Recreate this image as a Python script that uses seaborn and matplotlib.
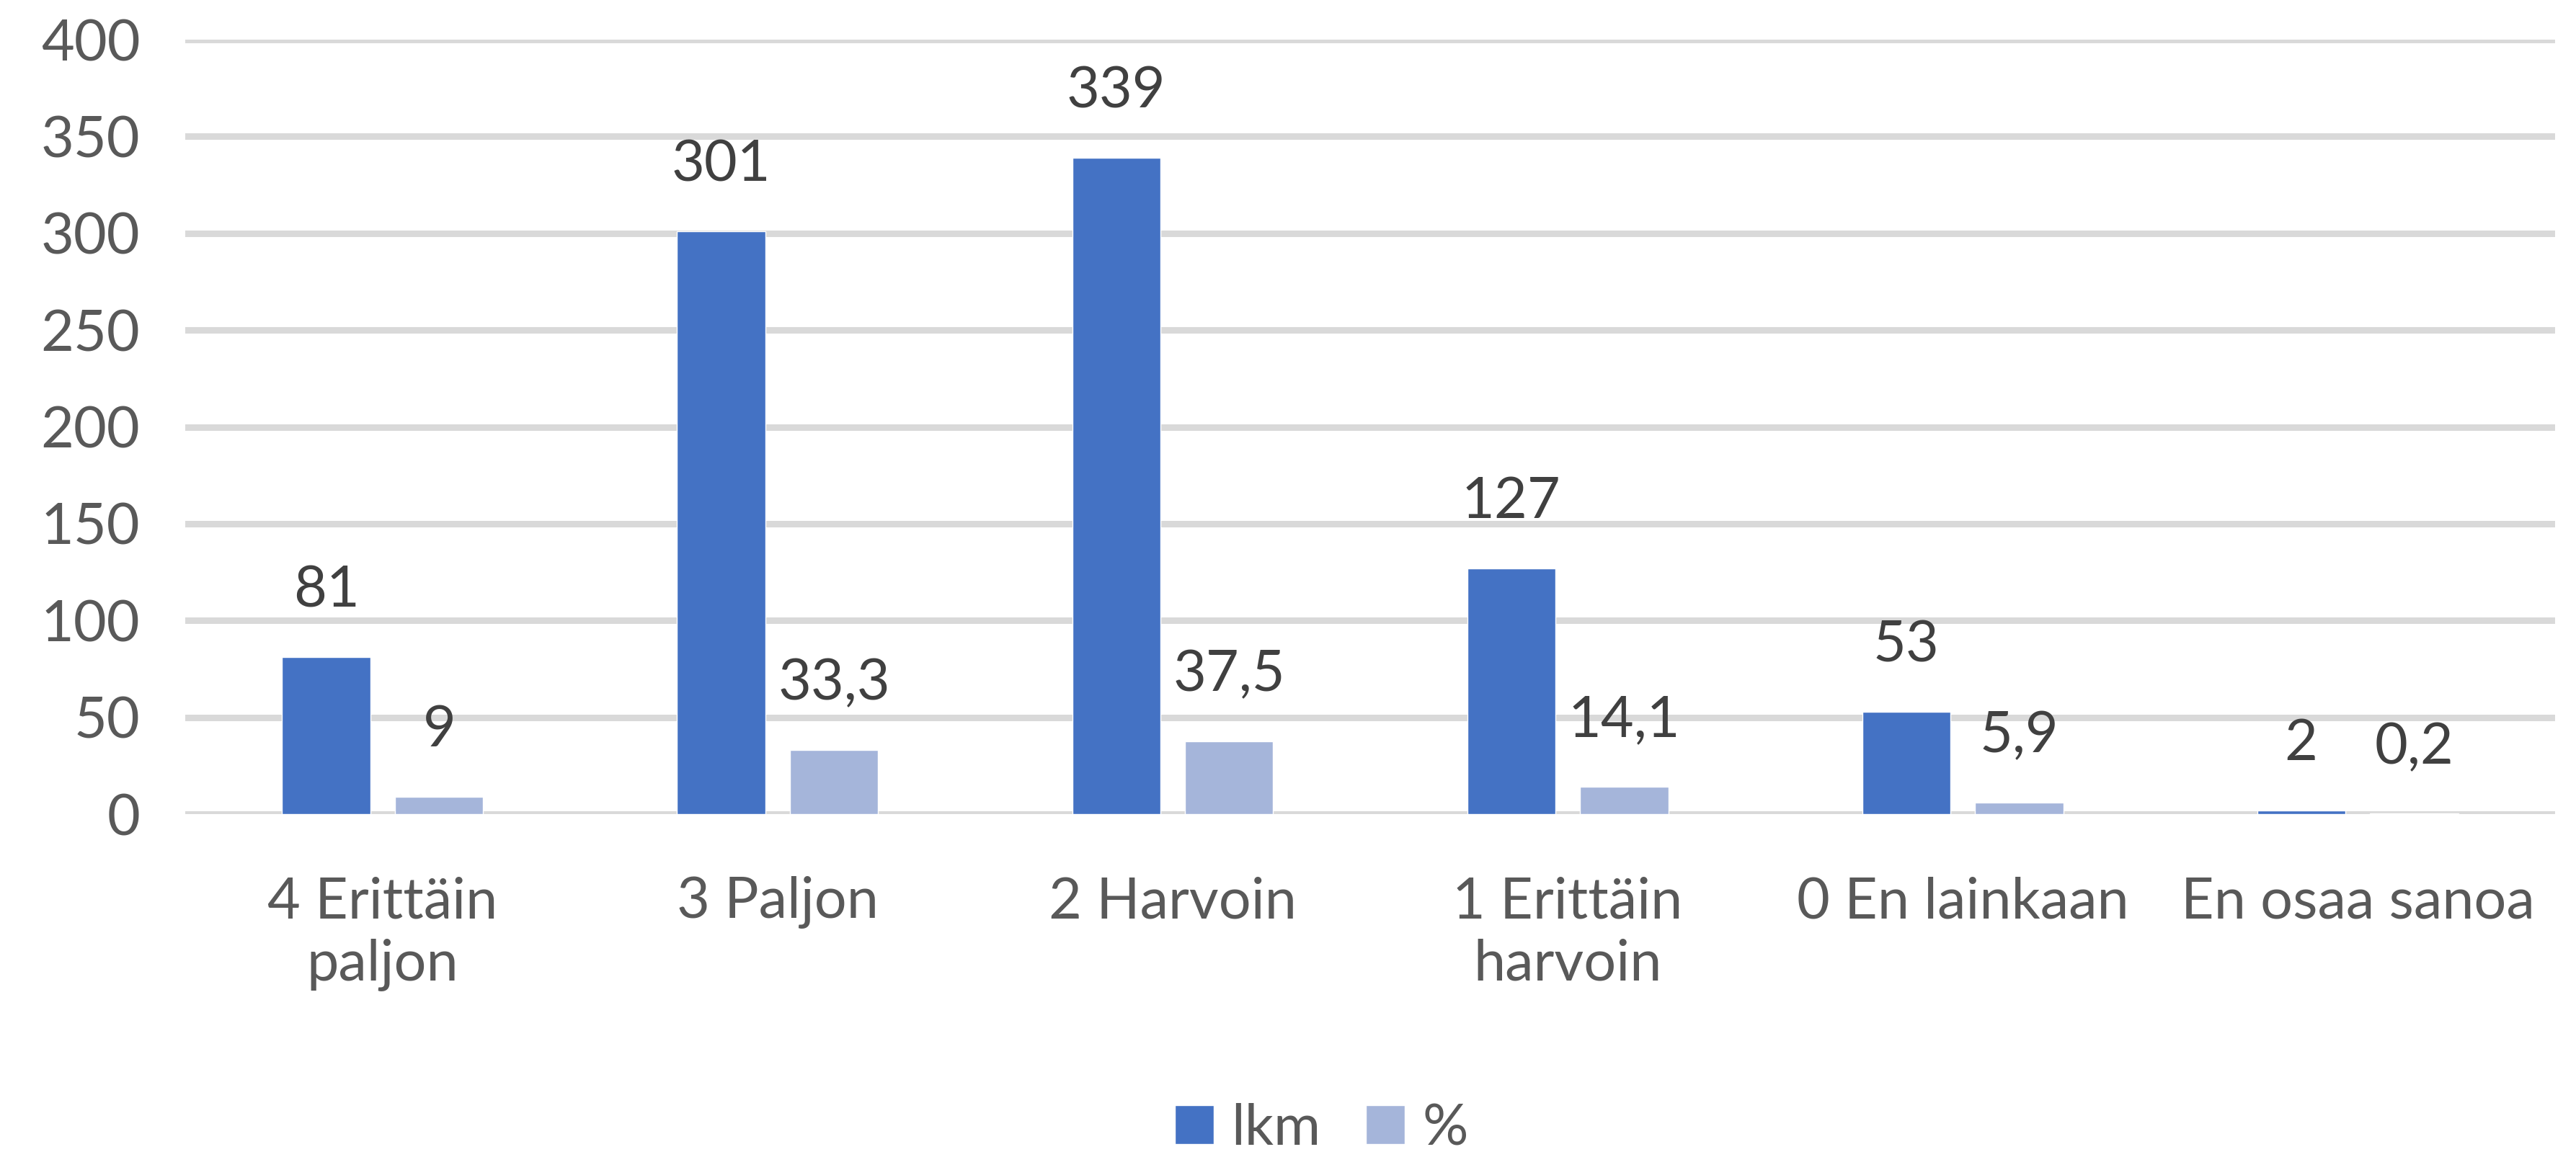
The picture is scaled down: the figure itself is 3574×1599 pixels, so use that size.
import pandas as pd
import matplotlib.pyplot as plt
import seaborn as sns
from matplotlib.patches import Patch

# data
categories = ['4 Erittäin\npaljon', '3 Paljon', '2 Harvoin', '1 Erittäin\nharvoin',
              '0 En lainkaan', 'En osaa sanoa']
lkm = [81, 301, 339, 127, 53, 2]
pct = [9, 33.3, 37.5, 14.1, 5.9, 0.2]
series = ['lkm', '%']
colors = ['#4472C4', '#A5B5DA']

df = pd.DataFrame({
    'kategoria': categories * 2,
    'sarja': ['lkm'] * len(categories) + ['%'] * len(categories),
    'arvo': lkm + pct,
})

sns.set_style('white')
plt.rcParams['font.family'] = ['Lato', 'DejaVu Sans']

fig = plt.figure(figsize=(35.74, 15.99), dpi=100)
ax = fig.add_axes([0.0719, 0.2933, 0.92, 0.6723])

sns.barplot(data=df, x='kategoria', y='arvo', hue='sarja', hue_order=series,
            palette=colors, width=0.572, gap=0.22, saturation=1,
            ax=ax, legend=False)

ax.set_ylim(0, 400)
ax.set_yticks(range(0, 401, 50))
ax.set_xlim(-0.5, len(categories) - 0.5)
ax.grid(axis='y', color='#D9D9D9', linewidth=6.5)
ax.set_axisbelow(True)
for s in ax.spines.values():
    s.set_visible(False)
ax.set_xlabel('')
ax.set_ylabel('')
ax.tick_params(axis='y', length=0, pad=45, labelsize=57, labelcolor='#595959')
ax.tick_params(axis='x', length=0, pad=62, labelsize=57, labelcolor='#595959')
for t in ax.get_xticklabels():
    t.set_linespacing(1.25)

# data labels
fmt = lambda v: f'{v:g}'.replace('.', ',')
for cont, vals in zip(ax.containers, [lkm, pct]):
    ax.bar_label(cont, labels=[fmt(v) for v in vals], padding=40,
                 fontsize=57, color='#404040')

handles = [Patch(facecolor=c, label=s) for c, s in zip(colors, series)]
fig.legend(handles=handles, loc='center', bbox_to_anchor=(0.513, 0.02),
           ncol=2, frameon=False, fontsize=57, labelcolor='#595959',
           handlelength=0.68, handleheight=0.68, handletextpad=0.3,
           columnspacing=0.8)

plt.savefig('out.png', dpi=100)
